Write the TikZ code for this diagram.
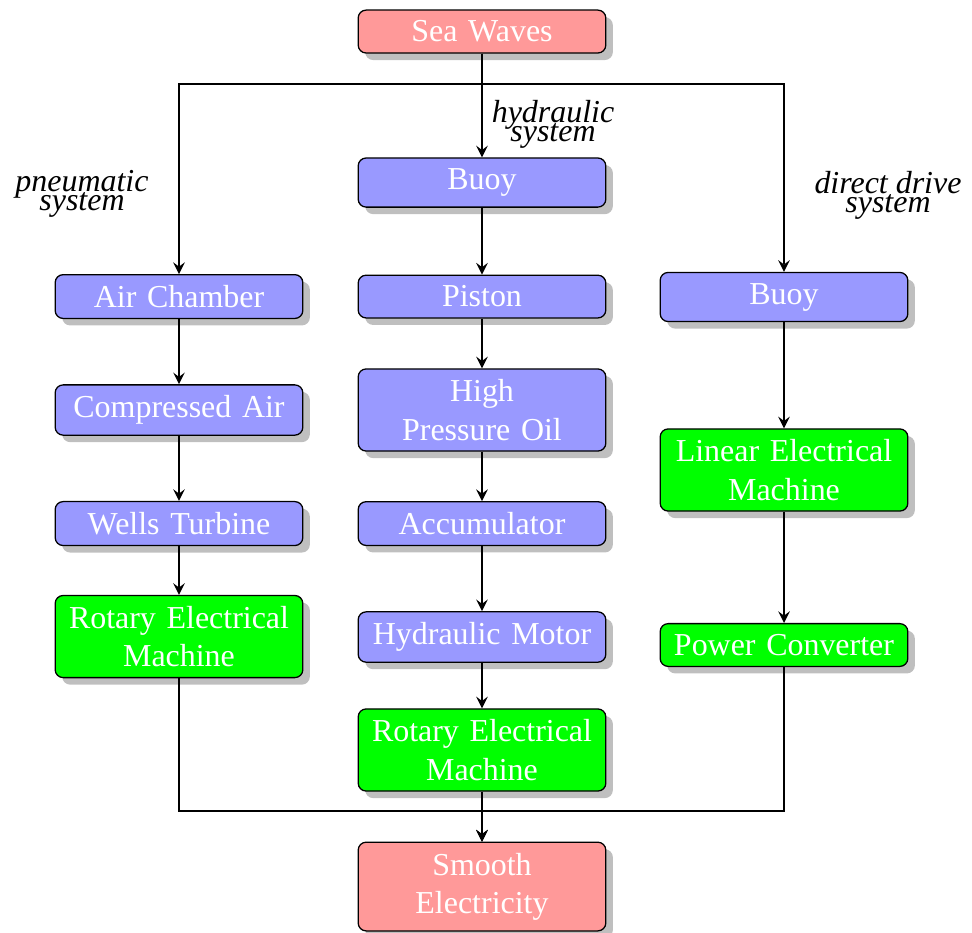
\documentclass[tikz,border=0pt]{standalone}
\usepackage{fontspec}
\setmainfont{Liberation Serif}
\usetikzlibrary{shadows}

\begin{document}
\begin{tikzpicture}[
	box/.style={rectangle, rounded corners=2.5pt, draw=black, thin, text=white,
		text width=2.49cm, align=center, font=\fontsize{10}{12}\selectfont,
		drop shadow={shadow xshift=2.2pt, shadow yshift=-2.2pt, fill=black!50}},
	endbox/.style={box, fill=red!40},
	mechbox/.style={box, fill=blue!40},
	elecbox/.style={box, fill=green},
	link/.style={-stealth, semithick},
	tag/.style={align=center, font=\fontsize{10}{12}\selectfont\itshape}]
			\useasboundingbox (0,0) rectangle (10.692,-10.252);
			% source and sink
			\node[endbox] (sea) at (5.302,-0.347) {Sea Waves};
			\node[endbox] (smooth) at (5.302,-9.752) {Smooth\\Electricity};
			% pneumatic branch
			\node[mechbox] (air) at (1.969,-3.262) {Air Chamber};
			\node[mechbox] (compr) at (1.969,-4.51) {Compressed Air};
			\node[mechbox] (wells) at (1.969,-5.759) {Wells Turbine};
			\node[elecbox] (remL) at (1.969,-7.002) {Rotary Electrical\\Machine};
			% hydraulic branch
			\node[mechbox] (buoyh) at (5.302,-2.008) {Buoy};
			\node[mechbox] (piston) at (5.302,-3.262) {Piston};
			\node[mechbox] (hpo) at (5.302,-4.51) {High\\Pressure Oil};
			\node[mechbox] (accum) at (5.302,-5.759) {Accumulator};
			\node[mechbox] (hmotor) at (5.302,-7.007) {Hydraulic Motor};
			\node[elecbox] (remM) at (5.302,-8.25) {Rotary Electrical\\Machine};
			% direct drive branch
			\node[mechbox] (buoyd) at (8.624,-3.267) {Buoy};
			\node[elecbox] (linear) at (8.624,-5.17) {Linear Electrical\\Machine};
			\node[elecbox] (conv) at (8.624,-7.095) {Power Converter};
			% branch names
			\node[tag] (pneu) at (0.902,-2.134) {pneumatic\\[-6pt]system};
			\node[tag] (hydr) at (6.083,-1.37) {hydraulic\\[-6pt]system};
			\node[tag] (direct) at (9.768,-2.145) {direct drive\\[-6pt]system};
			\coordinate (split) at (5.302,-0.924);
			\coordinate (merge) at (5.302,-8.921);
			\draw[link] (sea) -- (buoyh);
			\draw[link] (sea) -- (split) -| (air);
			\draw[link] (sea) -- (split) -| (buoyd);
			\draw[link] (air) -- (compr);
			\draw[link] (compr) -- (wells);
			\draw[link] (wells) -- (remL);
			\draw[link] (buoyh) -- (piston);
			\draw[link] (piston) -- (hpo);
			\draw[link] (hpo) -- (accum);
			\draw[link] (accum) -- (hmotor);
			\draw[link] (hmotor) -- (remM);
			\draw[link] (buoyd) -- (linear);
			\draw[link] (linear) -- (conv);
			\draw[link] (remM) -- (smooth);
			\draw[link] (remL) |- (merge) -- (smooth);
			\draw[link] (conv) |- (merge) -- (smooth);
		\end{tikzpicture}
\end{document}
